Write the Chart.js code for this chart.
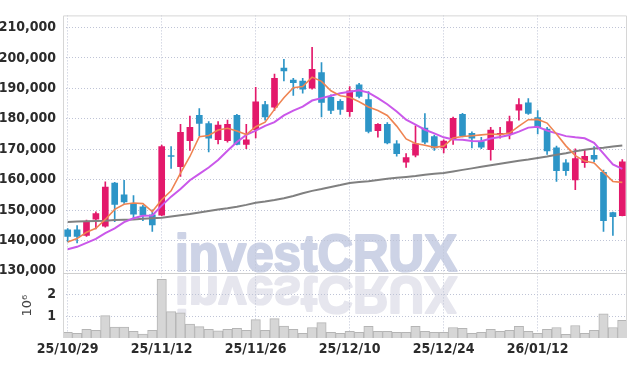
<!doctype html>
<html>
<head>
<meta charset="utf-8">
<title>Candlestick Chart</title>
<script src="https://cdn.jsdelivr.net/npm/chart.js@4.4.1/dist/chart.umd.min.js"></script>
<style>
    html, body { margin: 0; padding: 0; background: #fff; }
    .canvas-con { position: relative; width: 636px; height: 366px; }
</style>
</head>
<body>
<div class="canvas-con">
    <canvas id="chart-area" width="636" height="366"></canvas>
</div>
<script>
    var dates = [
        '25/10/29', '25/10/30', '25/10/31', '25/11/03', '25/11/04', '25/11/05', '25/11/06', '25/11/07', '25/11/10', '25/11/11',
        '25/11/12', '25/11/13', '25/11/14', '25/11/17', '25/11/18', '25/11/19', '25/11/20', '25/11/21', '25/11/24', '25/11/25',
        '25/11/26', '25/11/27', '25/11/28', '25/12/01', '25/12/02', '25/12/03', '25/12/04', '25/12/05', '25/12/08', '25/12/09',
        '25/12/10', '25/12/11', '25/12/12', '25/12/15', '25/12/16', '25/12/17', '25/12/18', '25/12/19', '25/12/22', '25/12/23',
        '25/12/24', '25/12/26', '25/12/29', '25/12/30', '26/01/02', '26/01/05', '26/01/06', '26/01/07', '26/01/08', '26/01/09',
        '26/01/12', '26/01/13', '26/01/14', '26/01/15', '26/01/16', '26/01/19', '26/01/20', '26/01/21', '26/01/22', '26/01/23'
    ];

    var opens = [
        143480, 143480, 141680, 147030, 144680, 158870, 155000, 151870, 151030, 148450,
        148320, 167900, 164260, 172840, 181130, 178450, 173160, 172840, 181130, 171550,
        176390, 184680, 183800, 196710, 192740, 192420, 190060, 195220, 187030, 185740,
        182320, 191130, 186290, 176060, 178220, 171770, 165740, 168000, 176940, 174130,
        170390, 173390, 181450, 175220, 172510, 169840, 174900, 175000, 182840, 185220,
        180390, 176610, 170480, 165550, 159940, 165550, 168000, 162420, 149190, 148130
    ];
    var closes = [
        141350, 141350, 146190, 148870, 157580, 151870, 152640, 148640, 148320, 145100,
        170900, 167600, 175550, 177160, 178450, 173610, 177900, 178220, 171550, 173060,
        185550, 180580, 193290, 195740, 191870, 189740, 196290, 185420, 182740, 183060,
        189190, 187350, 175870, 178220, 172100, 168550, 167260, 171770, 172320, 170390,
        172640, 180160, 174450, 173610, 170710, 176290, 175220, 179100, 184680, 181770,
        177160, 169420, 162970, 162970, 166930, 167680, 166710, 146520, 147800, 165870
    ];
    var highs = [
        143870, 144900, 146710, 149420, 159290, 159100, 159740, 154770, 151550, 150060,
        171350, 170900, 178220, 180900, 183390, 179090, 179090, 179610, 181450, 178220,
        190380, 185740, 194680, 199520, 193290, 193290, 203480, 198450, 187900, 186290,
        190580, 191680, 188970, 178390, 178770, 172840, 168550, 177680, 181680, 174680,
        173060, 180580, 181770, 175740, 173930, 177160, 177160, 180900, 186610, 186610,
        182740, 177160, 171030, 166610, 170160, 169840, 170900, 163160, 149350, 166610
    ];
    var lows = [
        139520, 139190, 141350, 143810, 144350, 146190, 152190, 147030, 146510, 142970,
        148130, 163710, 161030, 169610, 174450, 169100, 171770, 172320, 171450, 170160,
        173710, 179520, 182740, 192420, 187680, 188450, 189740, 180580, 181680, 181450,
        180800, 186840, 175320, 173930, 171770, 167680, 164030, 167480, 171770, 169610,
        168780, 171550, 174030, 170390, 170160, 166390, 173610, 173390, 179520, 181450,
        175000, 168320, 159420, 161350, 156710, 164030, 165870, 142970, 141680, 148060
    ];
    var volumes = [
        260000, 210000, 390000, 350000, 1020000, 500000, 500000, 300000, 180000, 350000,
        2670000, 1200000, 1150000, 630000, 520000, 390000, 330000, 390000, 440000, 350000,
        840000, 350000, 880000, 540000, 390000, 210000, 480000, 700000, 260000, 210000,
        300000, 260000, 530000, 300000, 300000, 260000, 260000, 530000, 300000, 260000,
        260000, 480000, 440000, 210000, 260000, 390000, 300000, 350000, 530000, 300000,
        210000, 390000, 480000, 170000, 570000, 210000, 350000, 1100000, 480000, 800000
    ];

    // moving average lines
    var maFast = [
        139500, 140600, 142700, 144000, 146900, 150200, 151900, 152300, 152100, 149500,
        153400, 156300, 162100, 167600, 174100, 174500, 176300, 176900, 176000, 174800,
        177400, 178900, 183100, 186900, 190200, 190600, 193700, 192300, 189200, 187600,
        187100, 185600, 183900, 182700, 181100, 177600, 173400, 171900, 171300, 170600,
        171000, 173700, 174200, 174400, 174700, 175000, 174800, 175300, 177600, 179700,
        179800, 178600, 175000, 171100, 167900, 166100, 165500, 162400, 159400, 159100
    ];
    var maMid = [
        137100, 137900, 139200, 140500, 142400, 144000, 146000, 147300, 148100, 148200,
        151450, 154400, 156900, 159800, 161900, 164000, 166450, 169500, 172400, 174700,
        176100, 177700, 178900, 181100, 182700, 184000, 186000, 186800, 187600, 188400,
        188900, 189400, 188600, 186800, 184800, 182400, 179700, 178100, 176400, 175200,
        173900, 173200, 173100, 172700, 172600, 173500, 174000, 174700, 175800, 177100,
        177400, 176100, 175200, 174300, 173900, 173600, 172100, 168550, 165000, 163500
    ];
    var maSlow = [
        146100, 146200, 146300, 146400, 146500, 146700, 146800, 146900, 147100, 147300,
        147500, 147900, 148300, 148700, 149200, 149700, 150200, 150600, 151100, 151700,
        152400, 152800, 153300, 153900, 154600, 155500, 156300, 156900, 157600, 158200,
        158900, 159200, 159500, 159900, 160300, 160600, 160900, 161200, 161600, 161900,
        162200, 162700, 163200, 163700, 164200, 164700, 165200, 165700, 166200, 166600,
        167100, 167600, 168200, 168700, 169300, 169800, 170200, 170500, 170900, 171200
    ];

    var priceTicks = [130000, 140000, 150000, 160000, 170000, 180000, 190000, 200000, 210000];
    var volumeTicks = [1000000, 2000000];
    var watermark = 'investCRUX';

    var upColor = '#e3196b';
    var downColor = '#2d95c7';
    var gridColor = '#bfc4d6';
    var fontFamily = "'Liberation Sans Narrow', 'DejaVu Sans Condensed', 'Roboto', sans-serif";

    var candleColor = function(ctx) {
        var i = ctx.dataIndex;
        return closes[i] >= opens[i] ? upColor : downColor;
    };

    var fixWidth = function(scale) { scale.width = 63; };

    // text + its mirror, thickened a bit with a stroke of the same colour
    var drawWord = function(ctx, color) {
        ctx.fillStyle = color;
        ctx.strokeStyle = color;
        ctx.fillText(watermark, 0, 0);
        ctx.strokeText(watermark, 0, 0);
    };

    var watermarkPlugin = {
        id: 'watermark',
        beforeDraw: function(chart) {
            var ctx = chart.ctx;
            var top = chart.scales.yv.top;
            ctx.save();
            ctx.font = "bold 52px 'Liberation Sans', Arial, sans-serif";
            ctx.textBaseline = 'alphabetic';
            ctx.lineJoin = 'round';
            ctx.lineWidth = 2.2;
            var w = ctx.measureText(watermark).width;
            var sx = 282 / w;
            var left = chart.width / 2 - 143;
            ctx.save();
            ctx.translate(left, top + 4);
            ctx.scale(sx, -1);
            drawWord(ctx, '#e6e6ee');
            ctx.restore();
            ctx.translate(left, top - 2.5);
            ctx.scale(sx, 1);
            drawWord(ctx, '#cdd3e6');
            ctx.restore();
        }
    };

    var framePlugin = {
        id: 'frame',
        afterDraw: function(chart) {
            var ctx = chart.ctx;
            var a = chart.chartArea;
            var sep = Math.round(chart.scales.yv.top) + 0.5;
            ctx.save();
            ctx.lineWidth = 1;
            ctx.strokeStyle = '#d6d6d6';
            ctx.beginPath();
            ctx.moveTo(a.left + 0.5, a.bottom);
            ctx.lineTo(a.left + 0.5, a.top + 0.5);
            ctx.lineTo(a.right - 0.5, a.top + 0.5);
            ctx.lineTo(a.right - 0.5, a.bottom);
            ctx.stroke();
            ctx.strokeStyle = '#cfcfcf';
            ctx.beginPath();
            ctx.moveTo(a.left, sep);
            ctx.lineTo(a.right, sep);
            ctx.stroke();
            ctx.restore();
        }
    };

    var config = {
        type: 'bar',
        data: {
            labels: dates,
            datasets: [{
                type: 'line',
                label: 'MA fast',
                data: maFast,
                borderColor: '#ef8452',
                borderWidth: 1.6,
                pointRadius: 0,
                tension: 0,
                yAxisID: 'y',
                order: 0
            }, {
                type: 'line',
                label: 'MA mid',
                data: maMid,
                borderColor: '#ca58ea',
                borderWidth: 2,
                pointRadius: 0,
                tension: 0,
                yAxisID: 'y',
                order: 0
            }, {
                type: 'line',
                label: 'MA slow',
                data: maSlow,
                borderColor: '#808080',
                borderWidth: 2,
                pointRadius: 0,
                tension: 0,
                yAxisID: 'y',
                order: 0
            }, {
                label: 'Body',
                data: dates.map(function(d, i) { return [opens[i], closes[i]]; }),
                backgroundColor: candleColor,
                barThickness: 6,
                grouped: false,
                borderSkipped: false,
                yAxisID: 'y',
                order: 1
            }, {
                label: 'Wick',
                data: dates.map(function(d, i) { return [lows[i], highs[i]]; }),
                backgroundColor: candleColor,
                barThickness: 1,
                grouped: false,
                borderSkipped: false,
                yAxisID: 'y',
                order: 2
            }, {
                label: 'Volume',
                data: volumes,
                backgroundColor: '#d6d6d6',
                borderColor: '#b5b5b5',
                borderWidth: 1,
                categoryPercentage: 1,
                barPercentage: 1,
                grouped: false,
                yAxisID: 'yv',
                order: 3
            }]
        },
        options: {
            responsive: false,
            animation: false,
            devicePixelRatio: 1,
            layout: { padding: { top: 9, right: 9, left: 0, bottom: 0 } },
            plugins: {
                legend: { display: false },
                tooltip: { enabled: false }
            },
            scales: {
                x: {
                    type: 'category',
                    offset: true,
                    border: { display: false, dash: [1, 2] },
                    grid: {
                        offset: false,
                        drawTicks: false,
                        color: function(ctx) { return ctx.index % 10 === 0 ? gridColor : 'rgba(0,0,0,0)'; }
                    },
                    ticks: {
                        autoSkip: false,
                        maxRotation: 0,
                        padding: 3,
                        color: '#2b2b2b',
                        font: { family: fontFamily, size: 14, weight: 'bold' },
                        callback: function(v, i) { return i % 10 === 0 ? dates[i] : ''; }
                    },
                    afterFit: function(scale) { scale.height = 28; }
                },
                // the first axis of a stack goes to the bottom
                yv: {
                    type: 'linear',
                    position: 'left',
                    stack: 'panes',
                    stackWeight: 66,
                    min: 0,
                    max: 2946000,
                    border: { display: false, dash: [1, 2] },
                    grid: { color: gridColor, drawTicks: false },
                    afterBuildTicks: function(scale) {
                        scale.ticks = volumeTicks.map(function(v) { return { value: v }; });
                    },
                    ticks: {
                        autoSkip: false,
                        padding: 7,
                        color: '#2b2b2b',
                        font: { family: fontFamily, size: 14, weight: 'bold' },
                        callback: function(v) { return String(v / 1000000); }
                    },
                    title: {
                        display: true,
                        text: '10⁶',
                        color: '#444',
                        padding: { top: 20, bottom: 0 },
                        font: { family: "'DejaVu Sans', sans-serif", size: 13 }
                    },
                    afterFit: fixWidth
                },
                y: {
                    type: 'linear',
                    position: 'left',
                    stack: 'panes',
                    stackWeight: 263,
                    min: 129200,
                    max: 214000,
                    border: { display: false, dash: [1, 2] },
                    grid: { color: gridColor, drawTicks: false },
                    afterBuildTicks: function(scale) {
                        scale.ticks = priceTicks.map(function(v) { return { value: v }; });
                    },
                    ticks: {
                        autoSkip: false,
                        padding: 7,
                        color: '#2b2b2b',
                        font: { family: fontFamily, size: 14, weight: 'bold' },
                        callback: function(v) { return v.toLocaleString('en-US'); }
                    },
                    afterFit: fixWidth
                }
            }
        },
        plugins: [watermarkPlugin, framePlugin]
    };

    window.onload = function() {
        var ctx = document.getElementById('chart-area').getContext('2d');
        window.myChart = new Chart(ctx, config);
    };
</script>
</body>
</html>
